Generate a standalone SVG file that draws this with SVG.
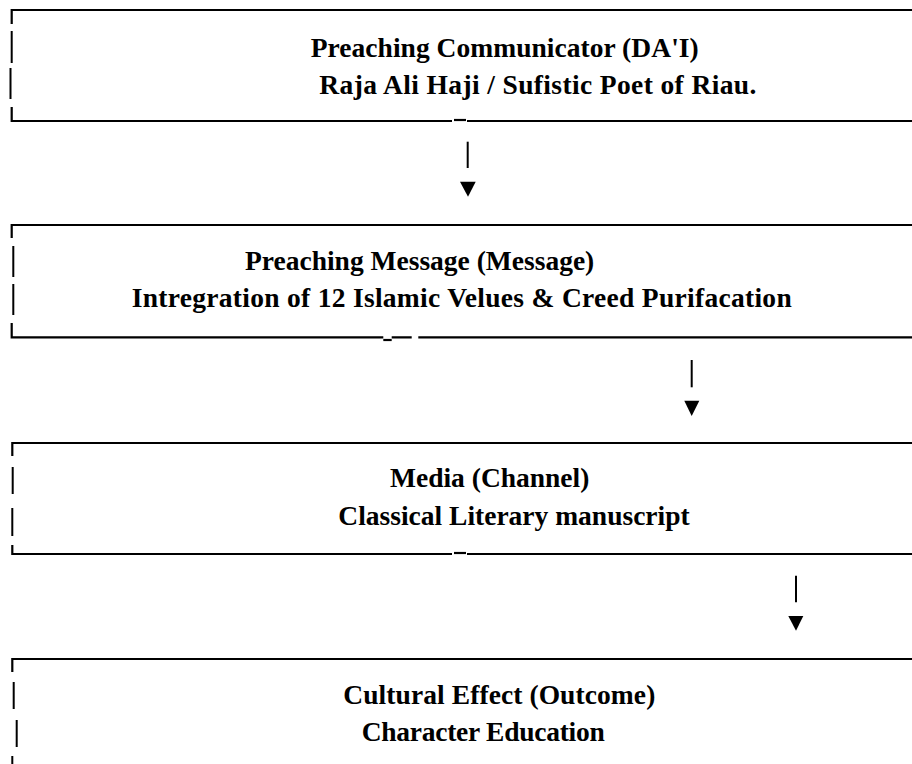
<svg xmlns="http://www.w3.org/2000/svg" width="912" height="764" viewBox="0 0 912 764">
  <style>
    .ln { stroke: #000; stroke-width: 2.2; fill: none; }
    .bar { stroke: #000; stroke-width: 2; fill: none; }
    .t { font-family: "Liberation Serif", "Times New Roman", serif; font-weight: bold; font-size: 27.5px; fill: #000; }
    .tri { fill: #000; }
  </style>
  <rect width="912" height="764" fill="#fff"/>

  <g id="node-communicator">
    <path class="ln" d="M11.7 24 V10 H912"/>
    <path class="bar" d="M11.7 31 V63 M10.5 68 V99"/>
    <path class="ln" d="M11.7 107 V121 H452 M467 121 H912"/>
    <path class="ln" d="M454 120 H466" stroke-width="2.6"/>
    <text class="t" x="310.7" y="57" textLength="388" lengthAdjust="spacing">Preaching Communicator (DA'I)</text>
    <text class="t" x="319.3" y="94" textLength="437" lengthAdjust="spacing">Raja Ali Haji / Sufistic Poet of Riau.</text>
  </g>

  <g id="node-message">
    <path class="ln" d="M11.7 238 V225 H912"/>
    <path class="bar" d="M13.3 246 V277 M13.3 284 V315"/>
    <path class="ln" d="M11.7 323 V337.3 H383.3 M391.7 337.3 H411.7 M418.3 337.3 H912"/>
    <path class="ln" d="M383.3 340 H391.7" stroke-width="2.6"/>
    <text class="t" x="245" y="270">Preaching Message (Message)</text>
    <text class="t" x="131.7" y="307" textLength="660" lengthAdjust="spacing">Intregration of 12 Islamic Velues &amp; Creed Purifacation</text>
  </g>

  <g id="node-media">
    <path class="ln" d="M12.3 456 V443 H912"/>
    <path class="bar" d="M12.7 467 V494 M12.3 508 V536"/>
    <path class="ln" d="M12.3 545 V554 H452 M467 554 H912"/>
    <path class="ln" d="M454 553 H466" stroke-width="2.6"/>
    <text class="t" x="390" y="487">Media (Channel)</text>
    <text class="t" x="338.3" y="525">Classical Literary manuscript</text>
  </g>

  <g id="node-effect">
    <path class="ln" d="M12.3 672 V659 H912"/>
    <path class="bar" d="M13.7 682 V709 M16.7 720 V747 M12.3 756 V764"/>
    <text class="t" x="343.3" y="703.5" textLength="312" lengthAdjust="spacing">Cultural Effect (Outcome)</text>
    <text class="t" x="361.7" y="741" textLength="243" lengthAdjust="spacing">Character Education</text>
  </g>

  <g id="connectors">
    <path class="bar" d="M467.7 141.7 V168"/>
    <polygon class="tri" points="460,181.7 475.7,181.7 468,196.7"/>
    <path class="bar" d="M691.7 360 V387.3"/>
    <polygon class="tri" points="684.3,400.7 699.3,400.7 691.7,416"/>
    <path class="bar" d="M796 575.7 V602.3"/>
    <polygon class="tri" points="788.3,616 803.3,616 796,630.7"/>
  </g>
</svg>
